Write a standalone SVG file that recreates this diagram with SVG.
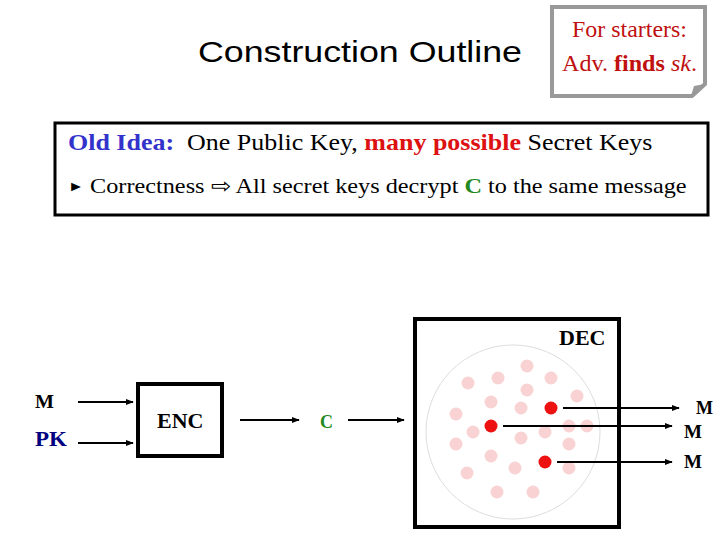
<svg xmlns="http://www.w3.org/2000/svg" width="720" height="540" viewBox="0 0 720 540">
<defs>
<style>
.serif{font-family:"Liberation Serif","Times New Roman",serif}
.sans{font-family:"Liberation Sans",Arial,sans-serif}
.conn{stroke:#000;stroke-width:2;fill:none;marker-end:url(#ah)}
.pink{fill:#f9d3d3}
.red{fill:#ee1111}
.b{font-weight:bold}
</style>
<marker id="ah" viewBox="0 0 10 10" refX="9" refY="5" markerWidth="4" markerHeight="4" orient="auto" markerUnits="strokeWidth">
<path d="M0,1 L10,5 L0,9 Z" fill="#000"/>
</marker>
</defs>
<rect width="720" height="540" fill="#fff"/>

<g id="title">
<text class="sans" x="198" y="62" font-size="30" textLength="324" lengthAdjust="spacingAndGlyphs">Construction Outline</text>
</g>

<g id="note">
<path d="M552,7 H705 V84 L692,96 H552 Z" fill="#fff" stroke="#999" stroke-width="4"/>
<path d="M691,96 L694,86 L705,84 Z" fill="#999"/>
<text class="serif" x="572" y="37" font-size="23" fill="#c01010" textLength="115" lengthAdjust="spacingAndGlyphs">For starters:</text>
<text class="serif" x="562" y="71" font-size="23" fill="#c01010" textLength="135" lengthAdjust="spacingAndGlyphs">Adv. <tspan class="b">finds</tspan> <tspan font-style="italic">sk</tspan>.</text>
</g>

<g id="idea">
<rect x="55" y="123" width="653" height="92" fill="#fff" stroke="#000" stroke-width="3"/>
<text class="serif" transform="translate(68,150) scale(1.13,1)" x="0" y="0" font-size="23" xml:space="preserve"><tspan class="b" fill="#3333cc">Old Idea:</tspan>  One Public Key, <tspan class="b" fill="#dd1111">many possible</tspan> Secret Keys</text>
<text class="serif" transform="translate(68,193) scale(1.155,1)" x="0" y="0" font-size="21"><tspan font-size="14" dy="-2">►</tspan><tspan dy="2"> Correctness ⇨ All secret keys decrypt </tspan><tspan class="b" fill="#228822">C</tspan> to the same message</text>
</g>

<g id="enc">
<rect x="138" y="384" width="84" height="72" fill="#fff" stroke="#000" stroke-width="4"/>
<text class="serif b" x="157" y="428" font-size="22">ENC</text>
</g>

<g id="labels">
<text class="serif b" x="35" y="408" font-size="18" textLength="19" lengthAdjust="spacingAndGlyphs">M</text>
<text class="serif b" x="35" y="446" font-size="20" fill="#000080" textLength="32" lengthAdjust="spacingAndGlyphs">PK</text>
<text class="serif b" x="320" y="428" font-size="18" fill="#228822" textLength="13" lengthAdjust="spacingAndGlyphs">C</text>
<text class="serif b" x="696" y="414" font-size="18" textLength="17" lengthAdjust="spacingAndGlyphs">M</text>
<text class="serif b" x="684" y="438" font-size="18" textLength="18" lengthAdjust="spacingAndGlyphs">M</text>
<text class="serif b" x="684" y="468" font-size="18" textLength="18" lengthAdjust="spacingAndGlyphs">M</text>
</g>

<g id="dec">
<rect x="415" y="319" width="204" height="208" fill="#fff" stroke="#000" stroke-width="4"/>
<text class="serif b" x="559" y="345" font-size="22">DEC</text>
<circle cx="513" cy="432" r="87" fill="none" stroke="#dddddd" stroke-width="1"/>
<g id="keys">
<circle class="pink" cx="468" cy="383" r="6.5"/>
<circle class="pink" cx="498" cy="378" r="6.5"/>
<circle class="pink" cx="527" cy="366" r="6.5"/>
<circle class="pink" cx="551" cy="378" r="6.5"/>
<circle class="pink" cx="577" cy="396" r="6.5"/>
<circle class="pink" cx="527" cy="390" r="6.5"/>
<circle class="pink" cx="491" cy="402" r="6.5"/>
<circle class="pink" cx="521" cy="408" r="6.5"/>
<circle class="pink" cx="456" cy="414" r="6.5"/>
<circle class="pink" cx="473" cy="432" r="6.5"/>
<circle class="pink" cx="521" cy="438" r="6.5"/>
<circle class="pink" cx="545" cy="432" r="6.5"/>
<circle class="pink" cx="569" cy="426" r="6.5"/>
<circle class="pink" cx="587" cy="426" r="6.5"/>
<circle class="pink" cx="456" cy="444" r="6.5"/>
<circle class="pink" cx="569" cy="444" r="6.5"/>
<circle class="pink" cx="491" cy="456" r="6.5"/>
<circle class="pink" cx="515" cy="468" r="6.5"/>
<circle class="pink" cx="569" cy="468" r="6.5"/>
<circle class="pink" cx="467" cy="473" r="6.5"/>
<circle class="pink" cx="497" cy="492" r="6.5"/>
<circle class="pink" cx="533" cy="492" r="6.5"/>
<circle class="red" cx="551" cy="408" r="6.5"/>
<circle class="red" cx="491" cy="426" r="6.5"/>
<circle class="red" cx="545" cy="462" r="6.5"/>
</g>
</g>

<g id="connectors">
<line class="conn" x1="78" y1="402" x2="133" y2="402"/>
<line class="conn" x1="78" y1="443" x2="133" y2="443"/>
<line class="conn" x1="240" y1="420" x2="299" y2="420"/>
<line class="conn" x1="348" y1="420" x2="404" y2="420"/>
<line class="conn" x1="563" y1="408" x2="679" y2="408"/>
<line class="conn" x1="503" y1="426" x2="672" y2="426"/>
<line class="conn" x1="557" y1="462" x2="672" y2="462"/>
</g>
</svg>
